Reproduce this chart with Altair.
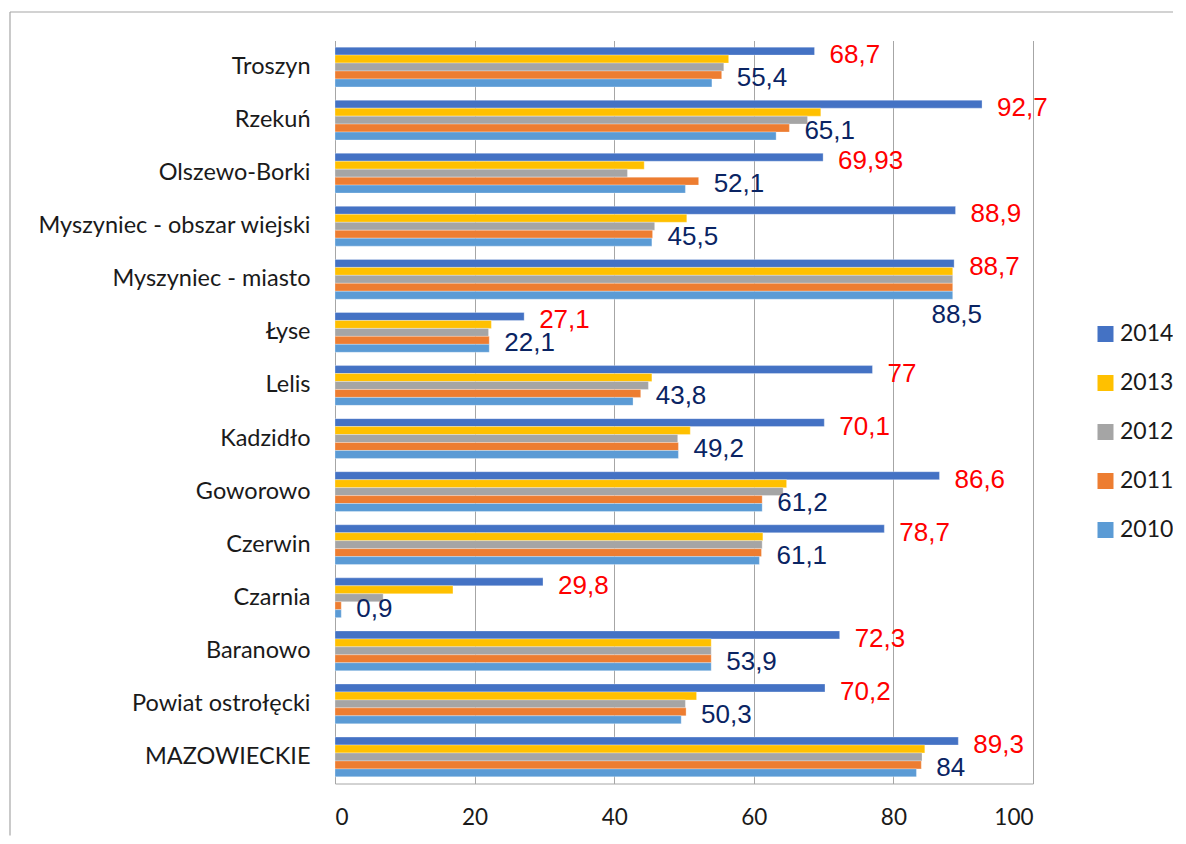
import altair as alt
import pandas as pd

categories = ["Troszyn", "Rzekuń", "Olszewo-Borki", "Myszyniec - obszar wiejski",
              "Myszyniec - miasto", "Łyse", "Lelis", "Kadzidło", "Goworowo",
              "Czerwin", "Czarnia", "Baranowo", "Powiat ostrołęcki", "MAZOWIECKIE"]
years = ["2014", "2013", "2012", "2011", "2010"]
v2014 = [68.7, 92.7, 69.93, 88.9, 88.7, 27.1, 77, 70.1, 86.6, 78.7, 29.8, 72.3, 70.2, 89.3]
v2013 = [56.4, 69.6, 44.3, 50.4, 88.5, 22.4, 45.4, 50.9, 64.7, 61.3, 16.9, 53.9, 51.8, 84.5]
v2012 = [55.7, 67.7, 41.9, 45.8, 88.5, 22.0, 44.9, 49.1, 64.2, 61.2, 6.9, 53.9, 50.2, 84.1]
v2011 = [55.4, 65.1, 52.1, 45.5, 88.5, 22.1, 43.8, 49.2, 61.2, 61.1, 0.9, 53.9, 50.3, 84]
v2010 = [54.0, 63.2, 50.2, 45.4, 88.5, 22.1, 42.7, 49.2, 61.2, 60.8, 0.9, 53.9, 49.6, 83.3]
colors = ["#4472C4", "#FFC000", "#A5A5A5", "#ED7D31", "#5B9BD5"]
x_ticks = [0, 20, 40, 60, 80, 100]

series = dict(zip(years, [v2014, v2013, v2012, v2011, v2010]))
rows = []
for y in years:
    for c, v in zip(categories, series[y]):
        rows.append({"category": c, "year": y, "value": v})
df = pd.DataFrame(rows)

W, H = 698, 743
LABEL_FONT = "Lato"
DATA_FONT = "Liberation Sans"

y_enc = alt.Y("category:N", sort=categories,
              scale=alt.Scale(domain=categories, paddingInner=0.25, paddingOuter=0.125),
              axis=alt.Axis(title=None, ticks=False, tickSize=0, labelPadding=25,
                            labelFont=LABEL_FONT, labelFontSize=23.5, labelColor="#1a1a1a",
                            domainColor="#A6A6A6", grid=False, labelLimit=400))
yoff = alt.YOffset("year:N", sort=years, scale=alt.Scale(domain=years))
x_enc = alt.X("value:Q", scale=alt.Scale(domain=[0, 100], nice=False),
              axis=alt.Axis(title=None, values=x_ticks, ticks=False, tickSize=0,
                            labelPadding=34, labelFont=LABEL_FONT, labelFontSize=22.5,
                            labelColor="#1a1a1a", gridColor="#A6A6A6", domainColor="#A6A6A6",
                            labelBaseline="middle", format="d"))

base = alt.Chart(df)

bars = base.mark_bar(stroke="#FFFFFF", strokeWidth=0.6, strokeOpacity=0.5).encode(
    x=x_enc, y=y_enc, yOffset=yoff,
    color=alt.Color("year:N", sort=years,
                    scale=alt.Scale(domain=years, range=colors),
                    legend=alt.Legend(title=None, orient="none", legendX=759, legendY=282,
                                      symbolType="square", symbolSize=256,
                                      symbolStrokeWidth=0, labelFont=LABEL_FONT,
                                      labelFontSize=23, labelColor="#1a1a1a",
                                      labelOffset=3, rowPadding=25, padding=0)),
)

lab = base.transform_calculate(
    label="replace(toString(datum.value), '.', ',')"
)

red = lab.transform_filter("datum.year == '2014'").mark_text(
    align="left", baseline="middle", dx=15, dy=4, font=DATA_FONT, fontSize=26,
    color="#FF0000").encode(x="value:Q", y=alt.Y("category:N", sort=categories),
                            yOffset=yoff, text="label:N")

navy = lab.transform_filter(
    "datum.year == '2011' && datum.category != 'Myszyniec - miasto'").mark_text(
    align="left", baseline="middle", dx=15, dy=3, font=DATA_FONT, fontSize=26,
    color="#0A2463").encode(x="value:Q", y=alt.Y("category:N", sort=categories),
                            yOffset=yoff, text="label:N")

navy_special = lab.transform_filter(
    "datum.year == '2011' && datum.category == 'Myszyniec - miasto'").mark_text(
    align="center", baseline="middle", dx=4, dy=28, font=DATA_FONT, fontSize=26,
    color="#0A2463").encode(x="value:Q", y=alt.Y("category:N", sort=categories),
                            yOffset=yoff, text="label:N")

one = pd.DataFrame({"k": [0]})
frame_top = alt.Chart(one).mark_rule(stroke="#A6A6A6", strokeWidth=1.2).encode(
    x=alt.value(-325), x2=alt.value(900), y=alt.value(-28.5))
frame_left = alt.Chart(one).mark_rule(stroke="#A6A6A6", strokeWidth=1.2).encode(
    x=alt.value(-325), y=alt.value(-28.5), y2=alt.value(H + 52))

chart = alt.layer(bars, red, navy, navy_special, frame_top, frame_left).properties(
    width=W, height=H,
    autosize=alt.AutoSizeParams(type="none"),
    padding={"left": 327, "top": 32.5, "right": 140, "bottom": 52.5},
    background="white",
).configure_view(stroke="transparent")

chart.save("out.html", embed_options={"renderer": "svg", "actions": False})
